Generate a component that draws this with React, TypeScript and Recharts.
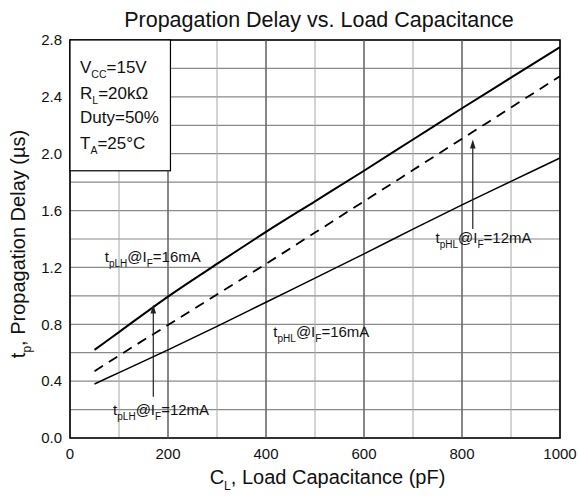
import React from "react";
import { LineChart, Line, XAxis, YAxis, CartesianGrid, ReferenceLine, ReferenceArea, ReferenceDot } from "recharts";

const capacitance = [50, 100, 200, 300, 400, 500, 600, 700, 800, 900, 1000];
const tpLH16 = [0.62, 0.745, 0.995, 1.225, 1.45, 1.665, 1.88, 2.1, 2.32, 2.535, 2.75];
const tpLH12 = [0.47, 0.58, 0.795, 1.01, 1.225, 1.445, 1.665, 1.885, 2.105, 2.325, 2.545];
const tpHL16 = [0.38, 0.46, 0.62, 0.785, 0.955, 1.125, 1.295, 1.47, 1.64, 1.805, 1.97];

// all grid positions; labels only on every other one
const xGridTicks = [0, 100, 200, 300, 400, 500, 600, 700, 800, 900, 1000];
const yGridTicks = [0, 0.2, 0.4, 0.6, 0.8, 1.0, 1.2, 1.4, 1.6, 1.8, 2.0, 2.2, 2.4, 2.6, 2.8];
const xGridMajor = [200, 400, 600, 800];

const annotations = [
  { c: 71, v: 1.235, sub: "pLH", cur: "16mA" },
  { c: 88, v: 0.16, sub: "pLH", cur: "12mA" },
  { c: 415, v: 0.71, sub: "pHL", cur: "16mA" },
  { c: 746, v: 1.37, sub: "pHL", cur: "12mA" },
];
const arrows = [
  { c: 170, from: 0.29, to: 0.94 },
  { c: 822, from: 1.47, to: 2.1 },
];
const conditionBox = { x1: 0, x2: 205, y1: 1.88, y2: 2.8 };
const xMax = 1000;
const yMax = 2.8;

const data = capacitance.map((c, i) => ({ c, lh16: tpLH16[i], lh12: tpLH12[i], hl16: tpHL16[i] }));

const vSeg = (c: number) => [
  { x: c, y: 0 },
  { x: c, y: c < conditionBox.x2 ? conditionBox.y1 : yMax },
];

const FONT = "'Liberation Sans', Arial, Helvetica, sans-serif";

const Annot = (p: any) => (
  <text x={p.cx} y={p.cy} fontSize={15} fontFamily={FONT} fill="#111">
    t<tspan dy={5} fontSize={10}>{p.sub}</tspan>
    <tspan dy={-5}>@I</tspan>
    <tspan dy={5} fontSize={10}>F</tspan>
    <tspan dy={-5}>={p.cur}</tspan>
  </text>
);

const Arrow = (p: any) => {
  const { x1, y1, x2, y2 } = p;
  if (x1 == null) return null;
  return (
    <g>
      <line x1={x1} y1={y1} x2={x2} y2={y2 + 6} stroke="#222" strokeWidth={1.2} />
      <polygon points={`${x2},${y2} ${x2 - 2.8},${y2 + 9} ${x2 + 2.8},${y2 + 9}`} fill="#222" />
    </g>
  );
};

const CondBox = (p: any) => {
  const { x, y, width, height } = p;
  const tx = x + 10;
  return (
    <g fontFamily={FONT} fontSize={17} fill="#111">
      <rect x={x} y={y} width={width} height={height} fill="#fff" stroke="#000" strokeWidth={1.2} />
      <text x={tx} y={y + 33}>
        V<tspan dy={5} fontSize={10.5}>CC</tspan>
        <tspan dy={-5}>=15V</tspan>
      </text>
      <text x={tx} y={y + 59}>
        R<tspan dy={5} fontSize={10.5}>L</tspan>
        <tspan dy={-5}>=20kΩ</tspan>
      </text>
      <text x={tx} y={y + 83}>Duty=50%</text>
      <text x={tx} y={y + 109}>
        T<tspan dy={5} fontSize={10.5}>A</tspan>
        <tspan dy={-5}>=25°C</tspan>
      </text>
    </g>
  );
};

const XLabel = (props: any) => {
  const vb = props.viewBox || { x: 70, y: 438, width: 490, height: 50 };
  const cx = vb.x + vb.width / 2 + 12.5;
  const y = vb.y + 46;
  return (
    <text x={cx} y={y} textAnchor="middle" fontSize={20} fontFamily={FONT} fill="#111">
      C<tspan dy={6} fontSize={12}>L</tspan>
      <tspan dy={-6}>, Load Capacitance (pF)</tspan>
    </text>
  );
};

const YLabel = (props: any) => {
  const vb = props.viewBox || { x: 20, y: 40, width: 50, height: 398 };
  const cx = vb.x + 5;
  const cy = vb.y + vb.height / 2 + 5;
  return (
    <text
      x={cx}
      y={cy}
      textAnchor="middle"
      transform={`rotate(-90, ${cx}, ${cy})`}
      fontSize={20}
      fontFamily={FONT}
      fill="#111"
    >
      t<tspan dy={6} fontSize={12}>p</tspan>
      <tspan dy={-6}>, Propagation Delay (µs)</tspan>
    </text>
  );
};

const fmtX = (v: number) => (Math.round(v) % 200 === 0 ? String(v) : "");
const fmtY = (v: number) => (Math.round(v * 10) % 4 === 0 ? v.toFixed(1) : "");

export default function App() {
  return (
    <div style={{ position: "absolute", left: 0, top: 0, width: 579, height: 496, fontFamily: FONT, overflow: "hidden" }}>
      <div
        style={{
          position: "absolute",
          left: 0,
          top: 8.5,
          width: 579,
          textAlign: "center",
          fontSize: 21.5,
          lineHeight: "22px",
          color: "#111",
          zIndex: 2,
          whiteSpace: "nowrap",
          paddingLeft: 59,
          boxSizing: "border-box",
        }}
      >
        Propagation Delay vs. Load Capacitance
      </div>
      <LineChart width={579} height={496} data={data} margin={{ top: 40, right: 19, bottom: 8, left: 20 }}>
        <CartesianGrid stroke="#8a8a8a" strokeWidth={1.2} vertical={false} />
        <CartesianGrid stroke="#a8a8a8" strokeWidth={1} horizontal={false} />
        <XAxis
          dataKey="c"
          type="number"
          domain={[0, xMax]}
          ticks={xGridTicks}
          interval={0}
          tickFormatter={fmtX}
          axisLine={false}
          tickLine={false}
          tickMargin={4}
          height={50}
          tick={{ fontSize: 15, fill: "#111", fontFamily: FONT }}
          label={<XLabel />}
        />
        <YAxis
          type="number"
          domain={[0, yMax]}
          ticks={yGridTicks}
          interval={0}
          tickFormatter={fmtY}
          axisLine={false}
          tickLine={false}
          width={50}
          tick={{ fontSize: 15, fill: "#111", fontFamily: FONT }}
          label={<YLabel />}
        />
        <ReferenceArea x1={0} x2={xMax} y1={0} y2={yMax} fill="none" fillOpacity={0} stroke="#000" strokeWidth={1.6} />
        <ReferenceArea
          x1={conditionBox.x1}
          x2={conditionBox.x2}
          y1={conditionBox.y1}
          y2={conditionBox.y2}
          shape={<CondBox />}
        />
        {xGridMajor.map((v) => (
          <ReferenceLine key={"xM" + v} segment={vSeg(v)} stroke="#555" strokeWidth={1.2} />
        ))}
        <Line dataKey="lh16" stroke="#000" strokeWidth={2} dot={false} type="monotone" isAnimationActive={false} />
        <Line
          dataKey="lh12"
          stroke="#000"
          strokeWidth={1.8}
          strokeDasharray="10 7"
          dot={false}
          type="monotone"
          isAnimationActive={false}
        />
        <Line dataKey="hl16" stroke="#000" strokeWidth={1.5} dot={false} type="monotone" isAnimationActive={false} />
        {arrows.map((a, i) => (
          <ReferenceLine
            key={"a" + i}
            segment={[
              { x: a.c, y: a.from },
              { x: a.c, y: a.to },
            ]}
            stroke="#222"
            shape={(p: any) => <Arrow {...p} />}
          />
        ))}
        {annotations.map((a, i) => (
          <ReferenceDot
            key={"t" + i}
            x={a.c}
            y={a.v}
            r={0}
            shape={(p: any) => <Annot {...p} sub={a.sub} cur={a.cur} />}
          />
        ))}
      </LineChart>
    </div>
  );
}
